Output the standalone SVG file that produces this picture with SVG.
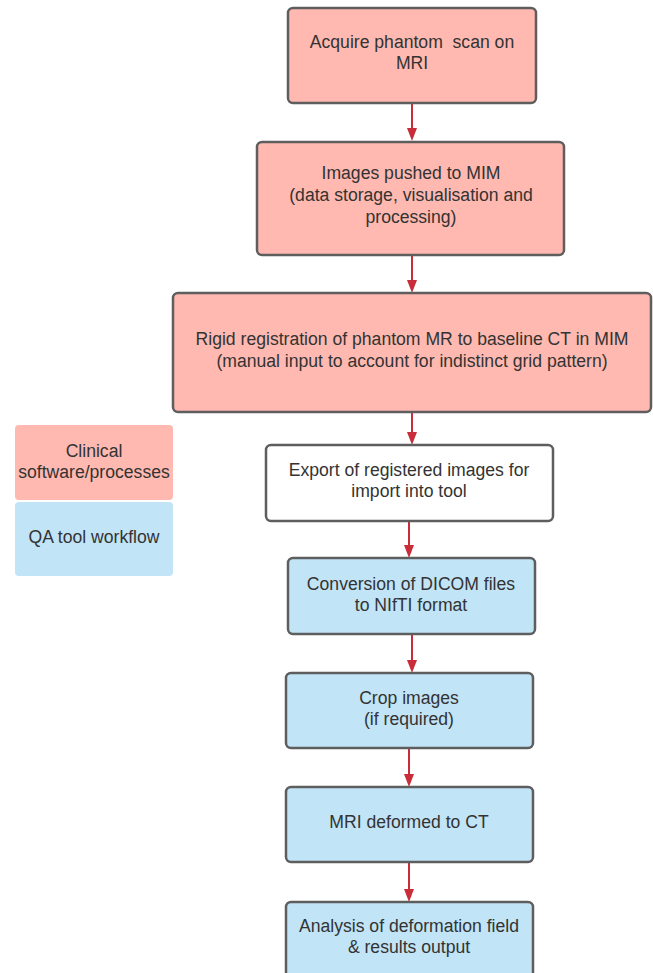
<svg xmlns="http://www.w3.org/2000/svg" width="653" height="973" viewBox="0 0 653 973">
<defs>
<style>
.pink{fill:#FFB9B0;stroke:#5E5E5E;stroke-width:2.5}
.blue{fill:#C1E4F7;stroke:#5E5E5E;stroke-width:2.5}
.white{fill:#FFFFFF;stroke:#5E5E5E;stroke-width:2.5}
.t{font-family:"Liberation Sans",Arial,sans-serif;font-size:17.6px;fill:#333333;text-anchor:middle;white-space:pre}
.c{stroke:#C92D39;stroke-width:2;fill:none}
.h{fill:#C92D39}
</style>
</defs>
<rect width="653" height="973" fill="#FFFFFF"/>
<g id="legend-clinical">
<rect x="15" y="425" width="158" height="75" rx="4" fill="#FFB9B0"/>
<text class="t" x="94" y="457">Clinical</text>
<text class="t" x="94" y="478">software/processes</text>
</g>
<g id="legend-qa">
<rect x="15" y="502" width="158" height="74" rx="4" fill="#C1E4F7"/>
<text class="t" x="94" y="543">QA tool workflow</text>
</g>
<g id="connectors">
<line class="c" x1="412" y1="103" x2="412" y2="130"/><path class="h" d="M407,128 L417,128 L412,141 Z"/>
<line class="c" x1="412" y1="255" x2="412" y2="282"/><path class="h" d="M407,280 L417,280 L412,293 Z"/>
<line class="c" x1="412" y1="412" x2="412" y2="434"/><path class="h" d="M407,432 L417,432 L412,445 Z"/>
<line class="c" x1="409" y1="521" x2="409" y2="547"/><path class="h" d="M404,545 L414,545 L409,558 Z"/>
<line class="c" x1="412" y1="634" x2="412" y2="662"/><path class="h" d="M407,660 L417,660 L412,673 Z"/>
<line class="c" x1="409" y1="748" x2="409" y2="776"/><path class="h" d="M404,774 L414,774 L409,787 Z"/>
<line class="c" x1="409" y1="862" x2="409" y2="891"/><path class="h" d="M404,889 L414,889 L409,902 Z"/>
</g>
<g id="n1">
<rect class="pink" x="288" y="8" width="248" height="95" rx="5"/>
<text class="t" x="412" y="48" xml:space="preserve">Acquire phantom  scan on</text>
<text class="t" x="412" y="69">MRI</text>
</g>
<g id="n2">
<rect class="pink" x="257" y="142" width="307" height="113" rx="5"/>
<text class="t" x="411" y="179">Images pushed to MIM</text>
<text class="t" x="411" y="201">(data storage, visualisation and</text>
<text class="t" x="411" y="223">processing)</text>
</g>
<g id="n3">
<rect class="pink" x="173" y="293" width="478" height="119" rx="5"/>
<text class="t" x="412" y="345">Rigid registration of phantom MR to baseline CT in MIM</text>
<text class="t" x="412" y="367">(manual input to account for indistinct grid pattern)</text>
</g>
<g id="n4">
<rect class="white" x="266" y="445" width="287" height="76" rx="5"/>
<text class="t" x="409" y="476">Export of registered images for</text>
<text class="t" x="409" y="497">import into tool</text>
</g>
<g id="n5">
<rect class="blue" x="288" y="558" width="247" height="76" rx="5"/>
<text class="t" x="411" y="590">Conversion of DICOM files</text>
<text class="t" x="411" y="611">to NIfTI format</text>
</g>
<g id="n6">
<rect class="blue" x="286" y="673" width="247" height="75" rx="5"/>
<text class="t" x="409" y="704">Crop images</text>
<text class="t" x="409" y="725">(if required)</text>
</g>
<g id="n7">
<rect class="blue" x="286" y="787" width="247" height="75" rx="5"/>
<text class="t" x="409" y="828">MRI deformed to CT</text>
</g>
<g id="n8">
<rect class="blue" x="286" y="902" width="247" height="90" rx="5"/>
<text class="t" x="409" y="932">Analysis of deformation field</text>
<text class="t" x="409" y="953">&amp; results output</text>
</g>
</svg>
